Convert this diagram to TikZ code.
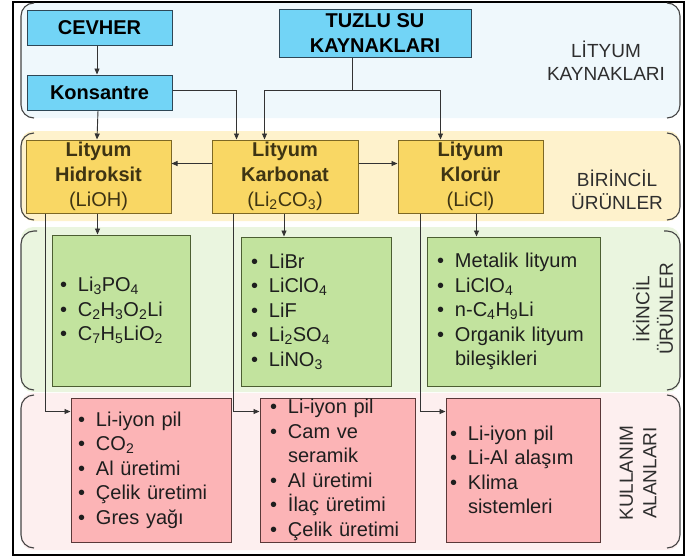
\documentclass[tikz,border=0pt]{standalone}
\usepackage{fontspec}
\setmainfont{Liberation Sans}
\usetikzlibrary{arrows.meta}

\definecolor{srcfill}{HTML}{72D4F6}
\definecolor{srcline}{HTML}{2E4756}
\definecolor{bandblue}{HTML}{EFF8FC}
\definecolor{bandyellow}{HTML}{FEF2CC}
\definecolor{prifill}{HTML}{F9D764}
\definecolor{priline}{HTML}{7D6824}
\definecolor{pritext}{HTML}{3E3413}
\definecolor{bandgreen}{HTML}{EAF5DF}
\definecolor{secfill}{HTML}{C2E39E}
\definecolor{secline}{HTML}{4C5E32}
\definecolor{bandpink}{HTML}{FDEFEF}
\definecolor{usefill}{HTML}{FCB4B6}
\definecolor{useline}{HTML}{5A3838}
\definecolor{bracketcol}{HTML}{454545}
\definecolor{wirecol}{HTML}{333333}
\definecolor{ink}{HTML}{1E1E1E}
\definecolor{sidetext}{HTML}{2E2E2E}

% bullet item and its continuation line
\newcommand{\itm}[1]{\makebox[18pt][l]{•}#1}
\newcommand{\cnt}[1]{\hspace*{18pt}#1}
\newcommand{\sub}[1]{\textsubscript{#1}}

\begin{document}
\begin{tikzpicture}[x=1pt,y=-1pt,
  srcbox/.style={draw=srcline, fill=srcfill, line width=1pt, inner sep=0pt,
    font=\bfseries\fontsize{20}{24.5}\selectfont, text=black, align=center},
  pribox/.style={draw=priline, fill=prifill, line width=1pt, inner sep=0pt,
    minimum height=73pt, minimum width=145pt,
    font=\bfseries\fontsize{20}{25}\selectfont, text=pritext, align=center},
  listbox/.style={line width=1pt, inner ysep=0pt,
    font=\fontsize{20}{24.5}\selectfont, text=ink, align=left},
  secbox/.style={listbox, draw=secline, fill=secfill},
  usebox/.style={listbox, draw=useline, fill=usefill},
  bracketline/.style={draw=bracketcol, line width=1.1pt, rounded corners=13pt},
  sidelabel/.style={font=\fontsize{19}{23.5}\selectfont, text=sidetext, align=center},
  wire/.style={draw=wirecol, line width=0.9pt},
  arr/.style={wire, -{Triangle[length=6pt,width=5pt]}}
]
\useasboundingbox (0,0) rectangle (694,557);

% outer frame
\draw[black, line width=1.3pt] (13,2) rectangle (684,555);

% bands with bracket-like side edges
\fill[bandblue, rounded corners=12pt] (21,3) rectangle (680,118);
\draw[bracketline] (34,3) -- (21,3) -- (21,118) -- (34,118);
\draw[bracketline] (667,3) -- (680,3) -- (680,118) -- (667,118);

\fill[bandyellow, rounded corners=12pt] (21,131) rectangle (680,221);
\draw[bracketline] (34,133) -- (21,133) -- (21,220) -- (34,220);
\draw[bracketline] (667,133) -- (680,133) -- (680,220) -- (667,220);

\fill[bandgreen, rounded corners=12pt] (21,227) rectangle (680,392);
\draw[bracketline] (37,231) -- (21,231) -- (21,390) -- (34,390);
\draw[bracketline] (664,231) -- (680,231) -- (680,390) -- (667,390);

\fill[bandpink, rounded corners=12pt] (21,393) rectangle (680,550);
\draw[bracketline] (34,395) -- (21,395) -- (21,548) -- (34,548);
\draw[bracketline] (667,395) -- (680,395) -- (680,548) -- (667,548);

% sources
\node[srcbox, minimum width=145pt, minimum height=35pt] (cevher) at (99.5,27.5) {CEVHER};
\node[srcbox, minimum width=145pt, minimum height=35pt] (kons) at (99.5,92.5) {Konsantre};
\node[srcbox, minimum width=192pt, minimum height=48pt] (tuz) at (375,33) {TUZLU SU\\KAYNAKLARI};

% primary products
\node[pribox] (hid) at (98.5,176.5) {Lityum\\Hidroksit\\{\mdseries(LiOH)}};
\node[pribox, minimum width=146pt] (karb) at (285,176.5) {Lityum\\Karbonat\\{\mdseries(Li\sub{2}CO\sub{3})}};
\node[pribox] (klor) at (470.5,176.5) {Lityum\\Klorür\\{\mdseries(LiCl)}};

% secondary products
\node[secbox, inner xsep=8pt, text width=122pt, minimum height=151pt] (g1) at (121,310.5)
  {\itm{Li\sub{3}PO\sub{4}}\\\itm{C\sub{2}H\sub{3}O\sub{2}Li}\\\itm{C\sub{7}H\sub{5}LiO\sub{2}}};
\node[secbox, inner xsep=10pt, text width=130pt, minimum height=149pt] (g2) at (316,311.5)
  {\itm{LiBr}\\\itm{LiClO\sub{4}}\\\itm{LiF}\\\itm{Li\sub{2}SO\sub{4}}\\\itm{LiNO\sub{3}}};
\node[secbox, inner xsep=10pt, text width=153pt, minimum height=149pt] (g3) at (513.5,311.5)
  {\itm{Metalik lityum}\\\itm{LiClO\sub{4}}\\\itm{n-C\sub{4}H\sub{9}Li}\\\itm{Organik lityum}\\\cnt{bileşikleri}};

% fields of use
\node[usebox, inner xsep=7pt, text width=146pt, minimum height=144pt] (p1) at (151,470)
  {\itm{Li-iyon pil}\\\itm{CO\sub{2}}\\\itm{Al üretimi}\\\itm{Çelik üretimi}\\\itm{Gres yağı}};
\node[usebox, inner xsep=10pt, text width=135pt, minimum height=144pt] (p2) at (337.5,470)
  {\itm{Li-iyon pil}\\\itm{Cam ve}\\\cnt{seramik}\\\itm{Al üretimi}\\\itm{İlaç üretimi}\\\itm{Çelik üretimi}};
\node[usebox, inner xsep=4pt, text width=146pt, minimum height=144pt] (p3) at (523,470)
  {\itm{Li-iyon pil}\\\itm{Li-Al alaşım}\\\itm{Klima}\\\cnt{sistemleri}};

% band labels
\node[sidelabel] (lab1) at (606,61) {LİTYUM\\KAYNAKLARI};
\node[sidelabel] (lab2) at (617,190) {BİRİNCİL\\ÜRÜNLER};
\node[sidelabel, rotate=90] (lab3) at (653,309) {İKİNCİL\\ÜRÜNLER};
\node[sidelabel, rotate=90] (lab4) at (638,473) {KULLANIM\\ALANLARI};

% connectors
\draw[arr] ([xshift=-2.5]cevher.south) -- ([xshift=-2.5]kons.north);
\draw[arr] ([xshift=-1.5]kons.south) -- ([xshift=-1.5]hid.north);
\draw[arr] ([yshift=2]kons.east) -| ([xshift=25]karb.north west);
\coordinate (split) at (352,90);
\draw[wire] (tuz.south -| split) -- (split);
\draw[arr] (split) -| ([xshift=53]karb.north west);
\draw[arr] (split) -| ([xshift=43]klor.north west);
\draw[arr] ([yshift=13]karb.west) -- ([yshift=13]karb.west -| hid.east);
\draw[arr] ([yshift=13]karb.east) -- ([yshift=13]karb.east -| klor.west);
\draw[arr] ([xshift=-1]hid.south) -- ([xshift=-1]hid.south |- g1.north);
\draw[arr] ([xshift=-1]karb.south) -- ([xshift=-1]karb.south |- g2.north);
\draw[arr] ([xshift=6]klor.south) -- ([xshift=6]klor.south |- g3.north);
\draw[arr] ([xshift=-53.5]hid.south) |- ([yshift=-14]p1.north west);
\draw[arr] ([xshift=-52]karb.south) |- ([yshift=-14]p2.north west);
\draw[arr] ([xshift=-50.5]klor.south) |- ([yshift=-14]p3.north west);
\end{tikzpicture}
\end{document}
